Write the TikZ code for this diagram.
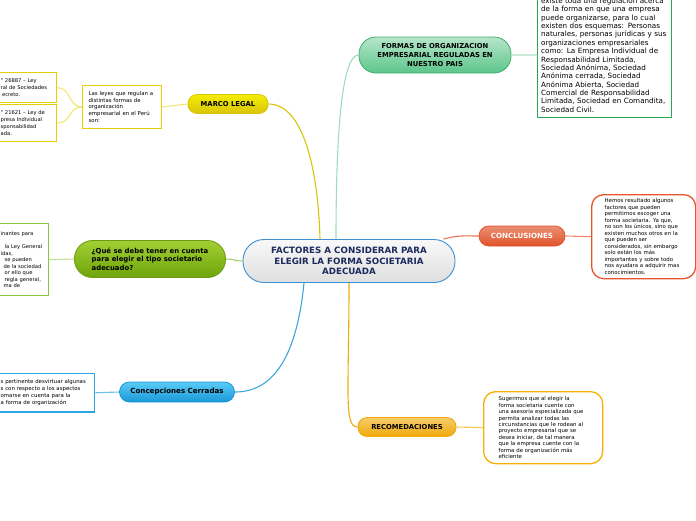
\documentclass[tikz,border=0pt]{standalone}
\usepackage{fontspec}
\setmainfont{DejaVu Sans}
\usetikzlibrary{positioning}
\definecolor{rootink}{HTML}{1B2B5E}
\definecolor{rootedge}{HTML}{3C8FD0}
\definecolor{formgreen}{HTML}{5CC68A}
\definecolor{formedge}{HTML}{3DAE6E}
\definecolor{marcoyel}{HTML}{D9C40A}
\definecolor{quetop}{HTML}{A2D034}
\definecolor{quebot}{HTML}{6EA40A}
\definecolor{queedge}{HTML}{6A9A10}
\definecolor{conctop}{HTML}{5ACBF5}
\definecolor{concblue}{HTML}{1A98D8}
\definecolor{conclred}{HTML}{E0532A}
\definecolor{recomor}{HTML}{F0AA0A}
\definecolor{notegreen}{HTML}{2AA850}
\definecolor{noteyel}{HTML}{E8D000}
\definecolor{notelime}{HTML}{8CC63F}
\definecolor{noteblue}{HTML}{29A8E0}
\definecolor{notered}{HTML}{E8532A}
\definecolor{noteor}{HTML}{F5B000}
\tikzset{
  root/.style  ={draw=rootedge,line width=0.9pt,top color=white!95!gray,bottom color=gray!25,rounded corners=21pt,
                 minimum width=212pt,minimum height=43pt,align=center,text=rootink,
                 font=\fontsize{8.7}{10.6}\selectfont\bfseries},
  topic/.style ={line width=0.8pt,align=center,inner sep=2pt,font=\fontsize{6.8}{8.6}\selectfont\bfseries},
  note/.style  ={draw,fill=white,line width=1.3pt,align=left,inner sep=5pt,anchor=north west,
                 font=\fontsize{5.4}{6.6}\selectfont},
  link/.style  ={line width=1.1pt},
}

\begin{document}
\begin{tikzpicture}[x=1pt,y=-1pt]
  \useasboundingbox (0,0) rectangle (696,520);

  \node[root] (root) at (349,261) {FACTORES A CONSIDERAR PARA\\ELEGIR LA FORMA SOCIETARIA\\ADECUADA};

  % main topics
  \node[topic,draw=formedge,top color=formgreen!45,bottom color=formgreen,rounded corners=17pt,
        minimum width=152pt,minimum height=36pt] (formas) at (435,55) {FORMAS DE ORGANIZACION\\EMPRESARIAL REGULADAS EN\\NUESTRO PAIS};
  \node[topic,draw=marcoyel,top color=yellow!70!marcoyel,bottom color=marcoyel,rounded corners=9pt,
        minimum width=80pt,minimum height=19pt] (marco) at (228,104) {MARCO LEGAL};
  \node[topic,draw=queedge,top color=quetop,bottom color=quebot,rounded corners=18pt,align=left,
        minimum width=151pt,minimum height=37pt,font=\fontsize{6.9}{8.6}\selectfont\bfseries] (que) at (150,259)
        {¿Qué se debe tener en cuenta\\para elegir el tipo societario\\adecuado?};
  \node[topic,draw=concblue,top color=conctop,bottom color=concblue,rounded corners=10pt,
        minimum width=115pt,minimum height=20pt,font=\fontsize{7.1}{8.6}\selectfont\bfseries] (conc) at (177,392) {Concepciones Cerradas};
  \node[topic,draw=conclred,top color=conclred!65,bottom color=conclred,rounded corners=10pt,text=white,
        minimum width=86pt,minimum height=20pt,font=\fontsize{7.1}{8.6}\selectfont\bfseries] (concl) at (522,236) {CONCLUSIONES};
  \node[topic,draw=recomor,top color=recomor!60,bottom color=recomor,rounded corners=9pt,
        minimum width=98pt,minimum height=19pt] (recom) at (407,427) {RECOMEDACIONES};

  % notes
  \node[note,draw=notegreen,anchor=south west,text width=127pt,inner xsep=3.5pt,inner ysep=5pt,
        font=\fontsize{7.2}{8.37}\selectfont] (formasnote) at (537,118)
        {existe toda una regulación acerca\\de la forma en que una empresa\\puede organizarse, para lo cual\\existen dos esquemas: Personas\\naturales, personas jurídicas y sus\\organizaciones empresariales\\como: La Empresa Individual de\\Responsabilidad Limitada,\\Sociedad Anónima, Sociedad\\Anónima cerrada, Sociedad\\Anónima Abierta, Sociedad\\Comercial de Responsabilidad\\Limitada, Sociedad en Comandita,\\Sociedad Civil.};
  \node[note,draw=noteyel,text width=67pt,inner sep=6pt,minimum height=39pt] (leyes) at (82,85)
        {Las leyes que regulan a\\distintas formas de\\organización\\empresarial en el Perú\\son:};
  \node[note,draw=noteyel,text width=50pt,inner sep=6pt,minimum height=26pt,
        font=\fontsize{5.2}{7}\selectfont] (ley1) at (-6,72)
        {° 26887 – Ley\\ral de Sociedades\\\hspace{1.5pt}ecreto.};
  \node[note,draw=noteyel,text width=50pt,inner sep=6pt,minimum height=33pt,
        font=\fontsize{5.2}{7}\selectfont] (ley2) at (-6,104)
        {° 21621 – Ley de\\presa Individual\\sponsabilidad\\ada.};
  \node[note,draw=notelime,text width=42pt,inner sep=6pt,minimum height=72pt,
        font=\fontsize{5.2}{6.5}\selectfont] (quenote) at (-6,223)
        {inantes para\\\mbox{}\\\hspace{4pt}la Ley General\\idas,\\\hspace{4pt}se pueden\\\hspace{3pt}de la sociedad\\\hspace{4pt}or ello que\\\hspace{4pt}regla general,\\\hspace{3pt}ma de};
  \node[note,draw=noteblue,text width=88pt,inner sep=6pt,minimum height=38pt,
        font=\fontsize{5.4}{7}\selectfont] (concnote) at (-6,373)
        {s pertinente desvirtuar algunas\\s con respecto a los aspectos\\omarse en cuenta para la\\a forma de organización};
  \node[note,draw=notered,rounded corners=12pt,text width=78pt,inner xsep=13pt,inner ysep=4pt,
        minimum height=84pt,font=\fontsize{5.4}{6.5}\selectfont] (conclnote) at (591,194)
        {Hemos resultado algunos\\factores que pueden\\permitirnos escoger una\\forma societaria. Ya que,\\no son los únicos, sino que\\existen muchos otros en la\\que pueden ser\\considerados, sin embargo\\solo están los más\\importantes y sobre todo\\nos ayudara a adquirir mas\\conocimientos.};
  \node[note,draw=noteor,rounded corners=12pt,text width=89pt,inner xsep=15pt,inner ysep=4pt,
        minimum height=72pt,font=\fontsize{5.4}{6.4}\selectfont] (recomnote) at (483,391)
        {Sugerimos que al elegir la\\forma societaria cuente con\\una asesoría especializada que\\permita analizar todas las\\circunstancias que le rodean al\\proyecto empresarial que se\\desea iniciar, de tal manera\\que la empresa cuente con la\\forma de organización más\\eficiente};

  % branches
  \draw[link,draw=marcoyel] ([xshift=-29pt]root.north) .. controls +(-2,-70) and +(35,0) .. (marco.east);
  \draw[link,draw=formgreen!60] ([xshift=-13pt]root.north) .. controls +(0,-130) and +(-14,0) .. (formas.west);
  \draw[link,draw=conclred!80] ([xshift=-12pt]root.north east) .. controls +(14,-4) and +(-14,0) .. (concl.west);
  \draw[link,draw=recomor] (root.south) .. controls +(0,110) and +(-14,0) .. (recom.west);
  \draw[link,draw=concblue!85] ([xshift=-45pt]root.south) .. controls +(-8,80) and +(35,0) .. (conc.east);
  \draw[link,draw=notelime!80] (root.west) .. controls +(-8,0) and +(8,0) .. (que.east);

  % note links
  \draw[link,draw=formgreen!50] (formas.east) .. controls +(12,0) and +(-12,0) .. (formasnote.west);
  \draw[link,draw=noteyel!55] (marco.west) -- (leyes.east);
  \draw[link,draw=noteyel!55] (leyes.west) .. controls +(-14,0) and +(14,0) .. (ley1.east);
  \draw[link,draw=noteyel!55] (leyes.west) .. controls +(-14,0) and +(14,0) .. (ley2.east);
  \draw[link,draw=notelime!55] (que.west) -- (quenote.east);
  \draw[link,draw=noteblue!70] (conc.west) -- (concnote.east);
  \draw[link,draw=notered!70] (concl.east) -- (conclnote.west);
  \draw[link,draw=noteor!70] (recom.east) -- (recomnote.west);
\end{tikzpicture}
\end{document}
